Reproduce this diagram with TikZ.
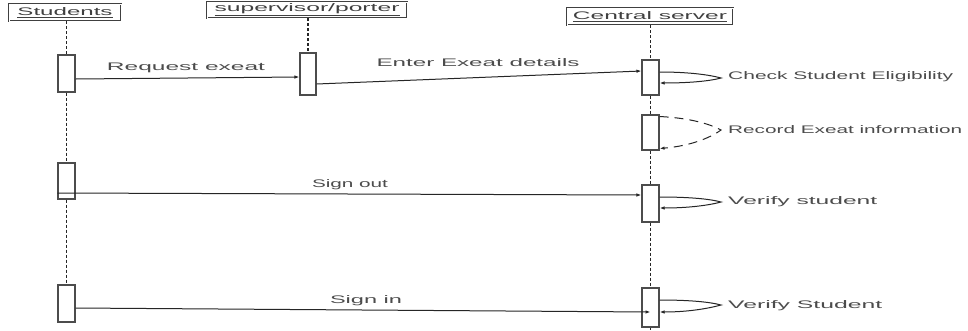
\documentclass[tikz,border=0pt]{standalone}
\usepackage{fontspec}
\setmainfont{Liberation Sans}
\usepackage{graphicx}
\usetikzlibrary{arrows.meta,calc}
\newcommand\fitw[2]{\resizebox{#1pt}{\height}{#2}}
\begin{document}
\begin{tikzpicture}[x=1pt,y=-1pt,
 head/.style={draw=black!75, double=white, double distance=0.9pt, line width=0.7pt, minimum height=17pt, inner sep=0pt, text=black!75, font=\fontsize{11}{13}\selectfont},
 bar/.style={draw=black!70, line width=1.1pt, fill=white, minimum width=17pt, inner sep=0pt},
 life/.style={draw=black!85, line width=1.2pt, dash pattern=on 3pt off 2pt},
 msg/.style={draw=black!85, line width=1pt, -{Latex[length=5pt,width=3.5pt]}},
 loopd/.style={msg, dash pattern=on 9pt off 6pt},
 lbl/.style={text=black!70, font=\fontsize{11}{13}\selectfont, inner sep=0pt},
]
\useasboundingbox[fill=white] (0,0) rectangle (968,330);
% headers
\node[head, minimum width=112pt] (stu) at (65,12.5) {\fitw{95}{\underline{Students}}};
\node[head, minimum width=200pt, minimum height=16pt] (sup) at (307,10) {\fitw{185}{\underline{supervisor/porter}}};
\node[head, minimum width=166pt] (cen) at (650,16.5) {\fitw{154}{\underline{Central server}}};
% activation bars
\node[bar, minimum height=37pt] (s1) at (66.5,73.5) {};
\node[bar, minimum height=36pt] (s2) at (66.5,181) {};
\node[bar, minimum height=37pt] (s3) at (66.5,303.5) {};
\node[bar, minimum width=16pt, minimum height=42pt] (p1) at (308,74) {};
\node[bar, minimum height=35pt] (c1) at (650.5,77.5) {};
\node[bar, minimum height=35pt] (c2) at (650.5,132.5) {};
\node[bar, minimum height=37pt] (c3) at (650.5,203.5) {};
\node[bar, minimum height=39pt] (c4) at (650.5,307.5) {};
\coordinate (cend) at (650.5,330);
% lifelines
\draw[life] (s1.north |- stu.south) -- (s1.north);
\draw[life] (s1.south) -- (s2.north);
\draw[life] (s2.south) -- (s3.north);
\draw[life] (p1.north |- sup.south) -- (p1.north);
\draw[life] (c1.north |- cen.south) -- (c1.north);
\draw[life] (c1.south) -- (c2.north);
\draw[life] (c2.south) -- (c3.north);
\draw[life] (c3.south) -- (c4.north);
\draw[life] (c4.south) -- (cend);
% messages
\draw[msg] ($(s1.east)+(0,5.5)$) -- ($(p1.west)+(0,3)$);
\draw[msg] ($(p1.east)+(0,10)$) -- ($(c1.west)+(0,-6.5)$);
\draw[msg] ($(s2.west)+(0,12)$) -- ($(c3.west)+(0,-8.5)$);
\draw[msg] ($(s3.east)+(0,4.5)$) -- ($(c4.center)+(0,4.5)$);
\node[lbl] (t1) at (186,68) {\fitw{158}{Request exeat}};
\node[lbl] (t2) at (478,63) {\fitw{203}{Enter Exeat details}};
\node[lbl] (t3) at (350,185) {\fitw{76}{Sign out}};
\node[lbl] (t4) at (366,301) {\fitw{72}{Sign in}};
% self messages
\coordinate (a1) at (721,78);
\coordinate (a2) at (721,130);
\coordinate (a3) at (721,202);
\coordinate (a4) at (721,305);
\draw[msg] ($(c1.east)+(0,-5.5)$) .. controls (690,72) and (710,75) .. (a1) .. controls (710,81) and (690,83) .. ($(c1.east)+(0,5.5)$);
\draw[loopd] ($(c2.east)+(0,-16)$) .. controls (690,118) and (710,124) .. (a2) .. controls (710,138) and (690,146) .. ($(c2.east)+(0,16)$);
\draw[msg] ($(c3.east)+(0,-6.5)$) .. controls (690,197) and (710,199) .. (a3) .. controls (710,205) and (690,208) .. ($(c3.east)+(0,4.5)$);
\draw[msg] ($(c4.east)+(0,-7.5)$) .. controls (690,300) and (710,302) .. (a4) .. controls (710,308) and (690,312) .. ($(c4.east)+(0,4.5)$);
\node[lbl, anchor=west] (l1) at (728,77) {\fitw{225}{Check Student Eligibility}};
\node[lbl, anchor=west] (l2) at (728,130) {\fitw{234}{Record Exeat information}};
\node[lbl, anchor=west] (l3) at (728,202) {\fitw{149}{Verify student}};
\node[lbl, anchor=west] (l4) at (728,306) {\fitw{154}{Verify Student}};
\end{tikzpicture}
\end{document}
